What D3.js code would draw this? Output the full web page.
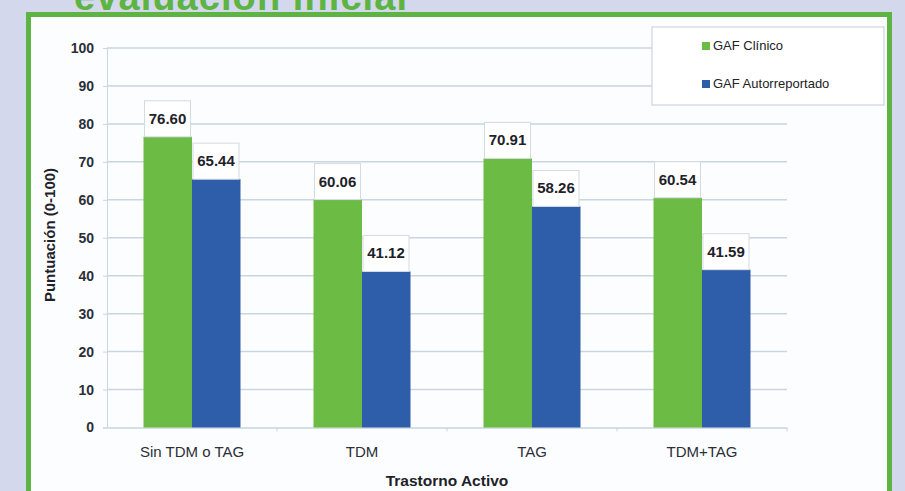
<!DOCTYPE html>
<html>
<head>
<meta charset="utf-8">
<script src="https://cdn.jsdelivr.net/npm/d3@7"></script>
<style>
  body { margin: 0; background: #d3d8ec; }
  svg { display: block; }
</style>
</head>
<body>
<svg id="chart" width="905" height="491"></svg>
<script>
// chart values
var categories = ["Sin TDM o TAG", "TDM", "TAG", "TDM+TAG"];
var seriesNames = ["GAF Clínico", "GAF Autorreportado"];
var gafClinico = [76.60, 60.06, 70.91, 60.54];
var gafAuto = [65.44, 41.12, 58.26, 41.59];
var yTicks = [0, 10, 20, 30, 40, 50, 60, 70, 80, 90, 100];
var colors = ["#6cbb45", "#2e5ea9"];

var svg = d3.select("#chart");
var font = "Liberation Sans, Arial, sans-serif";

// title, mostly cut off at the top
svg.append("text")
  .attr("x", 74).attr("y", 10)
  .attr("textLength", 333)
  .style("font-family", font)
  .style("font-weight", "bold")
  .style("font-size", "38px")
  .attr("fill", "#5db443")
  .text("evaluación inicial");

// white panel with green frame
svg.append("rect")
  .attr("x", 28.5).attr("y", 14.5)
  .attr("width", 861).attr("height", 500)
  .attr("fill", "#fcfdff")
  .attr("stroke", "#5db443").attr("stroke-width", 5);

var plotLeft = 107, plotRight = 787, plotTop = 48, plotBottom = 427.5;

var x0 = d3.scaleBand().domain(categories).range([plotLeft, plotRight]);
var x1 = d3.scaleBand().domain(seriesNames).range([0, 97]);
var y = d3.scaleLinear().domain([0, 100]).range([plotBottom, plotTop]);

// y axis
var yAxis = svg.append("g")
  .attr("transform", "translate(" + plotLeft + ",0)")
  .call(d3.axisLeft(y).tickValues(yTicks).tickSize(4).tickPadding(9));
yAxis.select(".domain").attr("stroke", "#c9d5df");
yAxis.selectAll(".tick line").attr("stroke", "#c9d5df");
yAxis.selectAll(".tick text")
  .style("font-family", font).style("font-size", "14px").style("font-weight", "bold")
  .attr("fill", "#2b2f36");

// gridlines
svg.append("g").selectAll("line")
  .data(yTicks.filter(function (d) { return d > 0; }))
  .join("line")
  .attr("x1", plotLeft).attr("x2", plotRight)
  .attr("y1", function (d) { return y(d); })
  .attr("y2", function (d) { return y(d); })
  .attr("stroke", "#c9d5df").attr("stroke-width", 1.5);

// x axis
var xAxis = svg.append("g")
  .attr("transform", "translate(0," + plotBottom + ")")
  .call(d3.axisBottom(x0).tickSize(0).tickPadding(19));
xAxis.select(".domain").attr("stroke", "#c9d5df").attr("stroke-width", 1.5);
xAxis.selectAll(".tick text")
  .style("font-family", font).style("font-size", "15px")
  .attr("fill", "#2b2f36");
svg.append("g").selectAll("line")
  .data(categories)
  .join("line")
  .attr("x1", function (d) { return x0(d) + x0.bandwidth(); })
  .attr("x2", function (d) { return x0(d) + x0.bandwidth(); })
  .attr("y1", plotBottom).attr("y2", plotBottom + 4)
  .attr("stroke", "#c9d5df");

// bars
var rows = categories.map(function (c, i) {
  return { cat: c, vals: [gafClinico[i], gafAuto[i]] };
});
var groups = svg.append("g").selectAll("g")
  .data(rows)
  .join("g")
  .attr("transform", function (d) { return "translate(" + (x0(d.cat) + (x0.bandwidth() - 97) / 2) + ",0)"; });

var cells = groups.selectAll("g")
  .data(function (d) { return d.vals.map(function (v, j) { return { name: seriesNames[j], v: v, j: j }; }); })
  .join("g");

cells.append("rect")
  .attr("x", function (d) { return x1(d.name); })
  .attr("y", function (d) { return y(d.v); })
  .attr("width", x1.bandwidth())
  .attr("height", function (d) { return plotBottom - y(d.v); })
  .attr("fill", function (d) { return colors[d.j]; });

// value label boxes
cells.append("rect")
  .attr("x", function (d) { return x1(d.name) + 1; })
  .attr("y", function (d) { return y(d.v) - 36; })
  .attr("width", 46).attr("height", 36)
  .attr("fill", "#ffffff")
  .attr("stroke", "#d3dbe2");
cells.append("text")
  .attr("x", function (d) { return x1(d.name) + 24; })
  .attr("y", function (d) { return y(d.v) - 13; })
  .attr("text-anchor", "middle")
  .style("font-family", font).style("font-weight", "bold").style("font-size", "15px")
  .attr("fill", "#1e2228")
  .text(function (d) { return d.v.toFixed(2); });

// axis titles
svg.append("text")
  .attr("transform", "translate(55," + 235 + ") rotate(-90)")
  .attr("text-anchor", "middle")
  .style("font-family", font).style("font-weight", "bold").style("font-size", "15px")
  .attr("fill", "#1e2228")
  .text("Puntuación (0-100)");
svg.append("text")
  .attr("x", 447).attr("y", 486)
  .attr("text-anchor", "middle")
  .style("font-family", font).style("font-weight", "bold").style("font-size", "15.5px")
  .attr("fill", "#1e2228")
  .text("Trastorno Activo");

// legend
var legend = svg.append("g");
legend.append("rect")
  .attr("x", 652).attr("y", 27).attr("width", 232).attr("height", 78)
  .attr("fill", "#ffffff").attr("stroke", "#ccd6df").attr("stroke-width", 1.2);
var li = legend.selectAll("g")
  .data(seriesNames)
  .join("g")
  .attr("transform", function (d, i) { return "translate(702," + (45 + i * 38) + ")"; });
li.append("rect")
  .attr("x", 0).attr("y", -3).attr("width", 8).attr("height", 8)
  .attr("fill", function (d, i) { return colors[i]; });
li.append("text")
  .attr("x", 11).attr("y", 5)
  .style("font-family", font).style("font-size", "13px")
  .attr("fill", "#222")
  .text(function (d) { return d; });
</script>
</body>
</html>
